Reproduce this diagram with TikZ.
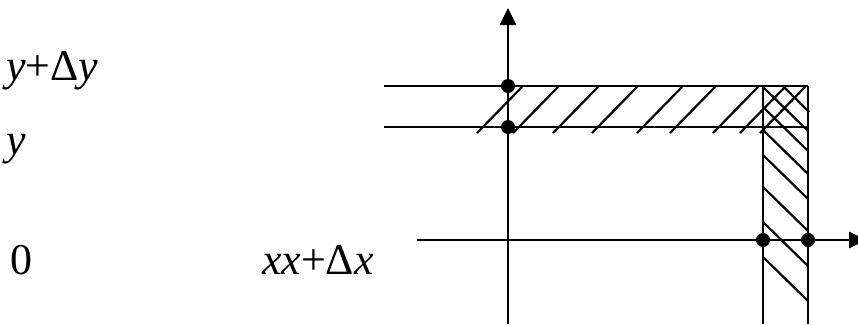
\documentclass[tikz,border=0pt]{standalone}
\usepackage{fontspec}
\setmainfont{Liberation Serif}
\usetikzlibrary{arrows.meta}
\tikzset{
  axis/.style={line width=2.8pt,-{Triangle[length=17pt,width=16pt]}},
  thin line/.style={line width=2.4pt},
  hatch/.style={line width=2.2pt},
  dot/.style={circle,fill=black,inner sep=0pt,minimum size=14pt},
  lbl/.style={font=\fontsize{44}{52}\selectfont,inner sep=0pt,anchor=base west}
}
\begin{document}
\begin{tikzpicture}[x=1pt,y=-1pt]
\useasboundingbox (0,0) rectangle (858,324);
\clip (0,0) rectangle (858,324);
% labels
\node[lbl] (lyd) at (6,80) {\textit{y}+Δ\textit{y}};
\node[lbl] (ly) at (6,154) {\textit{y}};
\node[lbl] (l0) at (10,274) {0};
\node[lbl,anchor=base east] (lx) at (374,274) {\textit{xx}+Δ\textit{x}};
% coordinates
\coordinate (ybot) at (508,324);
\coordinate (ytop) at (508,8);
\coordinate (xleft) at (417,240);
\coordinate (xright) at (866,240);
% horizontal strip lines
\draw[thin line] (384,86) -- (808,86);
\draw[thin line] (384,127) -- (808,127);
% vertical strip lines
\draw[thin line] (763,86) -- (763,324);
\draw[thin line] (808,86) -- (808,324);
% "/" hatching in horizontal strip
\foreach \b in {477,513,553,592,637,670,713,740,760}
  \draw[hatch] (\b,133) -- ({\b+45},87);
% "\" hatching in vertical strip
\draw[hatch] (783,86) -- (809,112);
\foreach \s in {87,107,130,155,187,222,257}
  \draw[hatch] (763,\s) -- (808,{\s+44});
% axes
\draw[axis] (ybot) -- (ytop);
\draw[axis] (xleft) -- (xright);
% dots
\node[dot] (p1) at (508,86) {};
\node[dot] (p2) at (508,127) {};
\node[dot] (p3) at (763,240) {};
\node[dot] (p4) at (808,240) {};
\end{tikzpicture}
\end{document}
